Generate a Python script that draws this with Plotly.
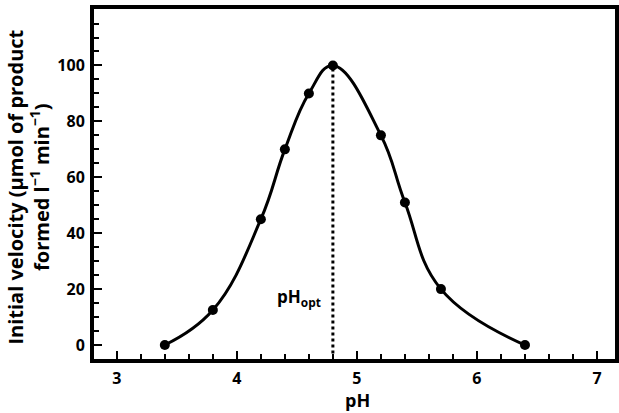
import plotly.graph_objects as go

ph = [3.4, 3.8, 4.2, 4.4, 4.6, 4.8, 5.2, 5.4, 5.7, 6.4]
velocity = [0, 12.5, 45, 70, 90, 100, 75, 51, 20, 0]
x_ticks = [3, 4, 5, 6, 7]
y_ticks = [0, 20, 40, 60, 80, 100]
ph_opt = 4.8

FONT = "Open Sans"

fig = go.Figure()
fig.add_trace(go.Scatter(
    x=ph, y=velocity, mode="lines+markers",
    line=dict(color="black", width=3, shape="spline", smoothing=1.2),
    marker=dict(color="black", size=10),
    showlegend=False,
))
fig.add_shape(type="line", x0=ph_opt, x1=ph_opt, y0=-3, y1=max(velocity),
              line=dict(color="black", width=3, dash="dot"), layer="below")
fig.add_annotation(x=4.52, y=17, text="<b>pH<sub>opt</sub></b>", showarrow=False,
                   font=dict(family=FONT, size=17, color="black"))
fig.add_annotation(xref="paper", yref="paper", x=-0.1265, y=0.49, textangle=-90,
                   text="<b>Initial velocity (μmol of product<br>formed l<sup>−1</sup> min<sup>−1</sup>)</b>",
                   showarrow=False, xanchor="center", yanchor="middle",
                   font=dict(family=FONT, size=20, color="black"))
fig.add_annotation(xref="paper", yref="paper", x=0.505, y=-0.118, text="<b>pH</b>",
                   showarrow=False, xanchor="center", yanchor="middle",
                   font=dict(family=FONT, size=18, color="black"))

axis_common = dict(
    showgrid=False, zeroline=False, showline=True, linecolor="black", linewidth=4,
    mirror=True, ticks="inside", ticklen=8, tickwidth=2, tickcolor="black",
    tickfont=dict(family=FONT, size=16, color="black", weight="bold"),
    automargin=False,
)
fig.update_xaxes(
    range=[2.81, 7.15], tickvals=x_ticks, ticklabelstandoff=2,
    minor=dict(dtick=0.2, ticks="inside", ticklen=5, tickwidth=2, tickcolor="black"),
    **axis_common,
)
fig.update_yaxes(
    range=[-5, 120.2], tickvals=y_ticks, ticklabelstandoff=2,
    minor=dict(dtick=5, ticks="inside", ticklen=5, tickwidth=2, tickcolor="black"),
    **axis_common,
)
fig.update_layout(
    width=619, height=413,
    margin=dict(l=94, r=4, t=9, b=54),
    paper_bgcolor="white", plot_bgcolor="white",
)
fig.write_html("out.html", config={"displayModeBar": False},
               post_script="document.body.style.margin='0';document.body.style.overflow='hidden';")
